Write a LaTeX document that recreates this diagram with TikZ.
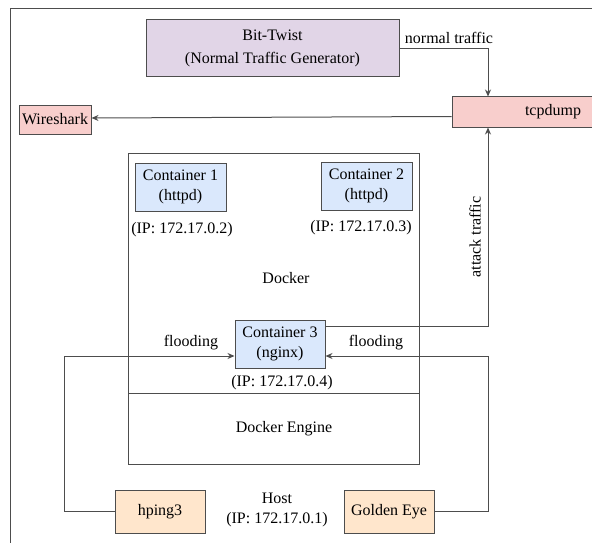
\documentclass[tikz,border=0pt]{standalone}
\usepackage{fontspec}
\setmainfont{Liberation Serif}
\usepackage{tikz}
\usetikzlibrary{positioning, arrows.meta}

\definecolor{twistfill}{HTML}{E1D5E7}
\definecolor{dumpfill}{HTML}{F8CECC}
\definecolor{contfill}{HTML}{DAE8FC}
\definecolor{toolfill}{HTML}{FFE6CC}
\definecolor{edge}{HTML}{4D4D4D}

\begin{document}
\begin{tikzpicture}[
		x=1pt, y=-1pt,
		font=\fontsize{16}{20}\selectfont,
		% boxes
		box/.style={draw=edge, line width=1pt, inner sep=0pt, align=center},
		twistbox/.style={box, fill=twistfill, minimum width=253pt, minimum height=57pt},
		dumpbox/.style={box, fill=dumpfill},
		contbox/.style={box, fill=contfill, minimum width=91pt, minimum height=48pt},
		toolbox/.style={box, fill=toolfill, minimum width=90pt, minimum height=43pt},
		lbl/.style={inner sep=0pt, align=center},
		% connectors
		arr/.style={draw=edge, line width=1pt, -{Stealth[length=7pt, width=6pt]}},
		line/.style={draw=edge, line width=1pt}
		]
		\useasboundingbox (0,0) rectangle (592,543);
		\clip (0,0) rectangle (592,543);
		
		% host frame (runs past the page)
		\draw[line] (10,9) rectangle (620,570);
		
		% docker area
		\draw[line] (128,153) rectangle (419,464);
		\draw[line] (128,393) -- (419,393);
		
		% nodes
		\node[twistbox, font=\fontsize{16}{23}\selectfont] (bittwist) at (272.5,48.5) {Bit-Twist\\(Normal Traffic Generator)};
		\node[dumpbox, minimum width=202pt, minimum height=30pt] (tcpdump) at (553,112) {tcpdump};
		\node[dumpbox, minimum width=72pt, minimum height=29pt] (wireshark) at (55,119.5) {Wireshark};
		
		\node[contbox] (c1) at (180.5,187) {Container 1\\(httpd)};
		\node[contbox] (c2) at (366.5,186) {Container 2\\(httpd)};
		\node[contbox, minimum width=90pt] (c3) at (280,344) {Container 3\\(nginx)};
		
		\node[toolbox] (hping) at (160,511.5) {hping3};
		\node[toolbox] (golden) at (389,511.5) {Golden Eye};
		
		% labels
		\node[lbl] (ip1) at (182,230) {(IP: 172.17.0.2)};
		\node[lbl] (ip2) at (361,228) {(IP: 172.17.0.3)};
		\node[lbl] (ip3) at (282,383) {(IP: 172.17.0.4)};
		\node[lbl] (docker) at (286,278) {Docker};
		\node[lbl] (engine) at (284,429) {Docker Engine};
		\node[lbl] (host) at (277,510) {Host\\(IP: 172.17.0.1)};
		\node[lbl] (normal) at (449,38) {normal traffic};
		\node[lbl, rotate=90] (attack) at (475,237) {attack traffic};
		\node[lbl] (floodl) at (191,343) {flooding};
		\node[lbl] (floodr) at (376,343) {flooding};
		
		% helper points
		\coordinate (tapx) at (488,0);
		\coordinate (fl) at (64,356);
		\coordinate (fr) at (488,356);
		
		% connectors
		\draw[arr] (bittwist.east) -| (tcpdump.north -| tapx);
		\draw[arr] (tcpdump.west |- 0,116.5) -- (wireshark.east |- 0,118);
		\draw[arr] ([yshift=18pt]c3.east) -| (tcpdump.south -| tapx);
		\draw[arr] (hping.west) -| (fl) |- ([yshift=-12pt]c3.west);
		\draw[arr] (golden.east) -| (fr) |- ([yshift=-12pt]c3.east);
	\end{tikzpicture}
\end{document}
